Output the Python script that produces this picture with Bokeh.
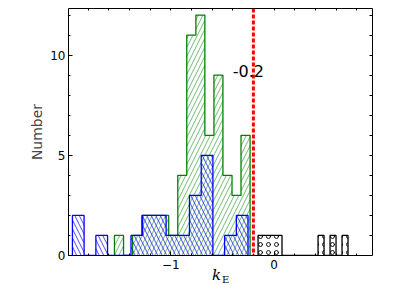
import numpy as np
from bokeh.plotting import figure
from bokeh.models import (LinearAxis, SingleIntervalTicker, FixedTicker, Span, Label,
                          ColumnDataSource, Range1d)
from bokeh.embed import file_html
from bokeh.resources import INLINE

# ---- data ----
green_edges = [-1.545, -1.457, -1.370, -1.282, -1.195, -1.107, -1.020, -0.932,
               -0.845, -0.757, -0.670, -0.582, -0.495, -0.407, -0.320, -0.232]
green_counts = [1, 0, 1, 2, 2, 2, 1, 4, 11, 12, 6, 9, 4, 3, 6]

blue_edges = [-1.952, -1.839, -1.725, -1.612, -1.499, -1.385, -1.272, -1.159,
              -1.045, -0.932, -0.819, -0.705, -0.592, -0.479, -0.365, -0.252]
blue_counts = [2, 0, 1, 0, 0, 1, 2, 2, 1, 1, 3, 5, 0, 1, 2]

black_edges = [-0.155, -0.097, -0.039, 0.019, 0.077, 0.135, 0.193, 0.252,
               0.310, 0.368, 0.426, 0.484, 0.542, 0.600, 0.658, 0.716]
black_counts = [1, 1, 1, 1, 0, 0, 0, 0, 0, 0, 1, 0, 1, 0, 1]

threshold = -0.2
threshold_text = "-0.2"
x_tick_labels = {-1: "\u22121", 0: "0"}
y_label = "Number"
x_label_main = "k"
x_label_sub = "E"

X_RANGE = (-1.99, 0.953)
Y_RANGE = (0, 12.33)

# horizontal anchor (data x) of the two parts of the x-axis title
X_LABEL_K_AT = -0.557
X_LABEL_E_AT = -0.468

p = figure(width=398, height=290, x_range=Range1d(*X_RANGE), y_range=Range1d(*Y_RANGE),
           output_backend="svg", toolbar_location=None,
           min_border_left=68, min_border_right=26, min_border_top=8,
           min_border_bottom=35, x_axis_location=None, y_axis_location=None)
p.xgrid.visible = False
p.ygrid.visible = False
p.outline_line_color = None
p.background_fill_color = "white"
p.border_fill_color = "white"


def hist(edges, counts, color, hatch, hatch_alpha, scale):
    e = np.asarray(edges)
    c = np.asarray(counts)
    src = ColumnDataSource(dict(left=e[:-1], right=e[1:], top=c, bottom=np.zeros_like(c)))
    p.quad(left="left", right="right", top="top", bottom="bottom", source=src,
           fill_color=None, line_color=None, hatch_pattern=hatch,
           hatch_color=color, hatch_alpha=hatch_alpha, hatch_scale=scale,
           hatch_weight=1)
    xs = [e[0]]
    ys = [0]
    for i in range(len(c)):
        xs += [e[i], e[i + 1]]
        ys += [c[i], c[i]]
    xs.append(e[-1])
    ys.append(0)
    p.line(xs, ys, line_color=color, line_width=1.3)


hist(green_edges, green_counts, "#008000", "/", 0.55, 9)
hist(blue_edges, blue_counts, "#0000ff", "\\", 0.7, 9)
hist(black_edges, black_counts, "#000000", "o", 0.9, 8)

span = Span(location=threshold, dimension="height", line_color="#ff0000",
            line_width=3, line_dash="4 2")
p.add_layout(span)

p.add_layout(Label(x=-0.40, y=9.2, text=threshold_text, text_font="DejaVu Sans",
                   text_font_size="16px", text_baseline="middle", text_color="black"))


def style_axis(ax):
    ax.axis_line_color = "black"
    ax.axis_line_width = 1
    ax.major_tick_in = 4
    ax.major_tick_out = 0
    ax.minor_tick_in = 2
    ax.minor_tick_out = 0
    ax.major_tick_line_color = "black"
    ax.minor_tick_line_color = "black"
    ax.major_label_text_font = "DejaVu Sans"
    ax.major_label_text_font_size = "12px"
    ax.major_label_text_color = "black"


# bottom axis
xb = LinearAxis(ticker=SingleIntervalTicker(interval=1, num_minor_ticks=5))
style_axis(xb)
xb.major_label_overrides = x_tick_labels
xb.major_label_standoff = 4
p.add_layout(xb, "below")

# x-axis title "k_E": two label-only axes below the tick labels
def title_axis(at, text, size, style, standoff):
    ax = LinearAxis(ticker=FixedTicker(ticks=[at], minor_ticks=[]))
    ax.axis_line_color = None
    ax.major_tick_line_color = None
    ax.minor_tick_line_color = None
    ax.major_tick_in = 0
    ax.major_tick_out = 0
    ax.major_label_overrides = {at: text}
    ax.major_label_text_font = "DejaVu Serif"
    ax.major_label_text_font_style = style
    ax.major_label_text_font_size = size
    ax.major_label_text_color = "black"
    ax.major_label_standoff = standoff
    p.add_layout(ax, "below")
    return ax


title_axis(X_LABEL_K_AT, x_label_main, "15px", "italic", -6)
title_axis(X_LABEL_E_AT, x_label_sub, "10px", "normal", -13)

# top axis: ticks only
top_minor = [v for v in np.arange(-1.8, 0.95, 0.2)]
xt = LinearAxis(ticker=FixedTicker(ticks=[], minor_ticks=top_minor))
style_axis(xt)
p.add_layout(xt, "above")

# left axis
yl = LinearAxis(ticker=SingleIntervalTicker(interval=5, num_minor_ticks=5))
style_axis(yl)
yl.major_label_standoff = 3
yl.axis_label = y_label
yl.axis_label_text_font = "DejaVu Sans"
yl.axis_label_text_font_style = "normal"
yl.axis_label_text_font_size = "14px"
yl.axis_label_standoff = 2
p.add_layout(yl, "left")

# right axis: ticks only
right_minor = [v for v in range(1, 13)]
yr = LinearAxis(ticker=FixedTicker(ticks=[], minor_ticks=right_minor))
style_axis(yr)
yr.minor_tick_in = 3
p.add_layout(yr, "right")

open("out.html", "w").write(file_html(p, INLINE))
